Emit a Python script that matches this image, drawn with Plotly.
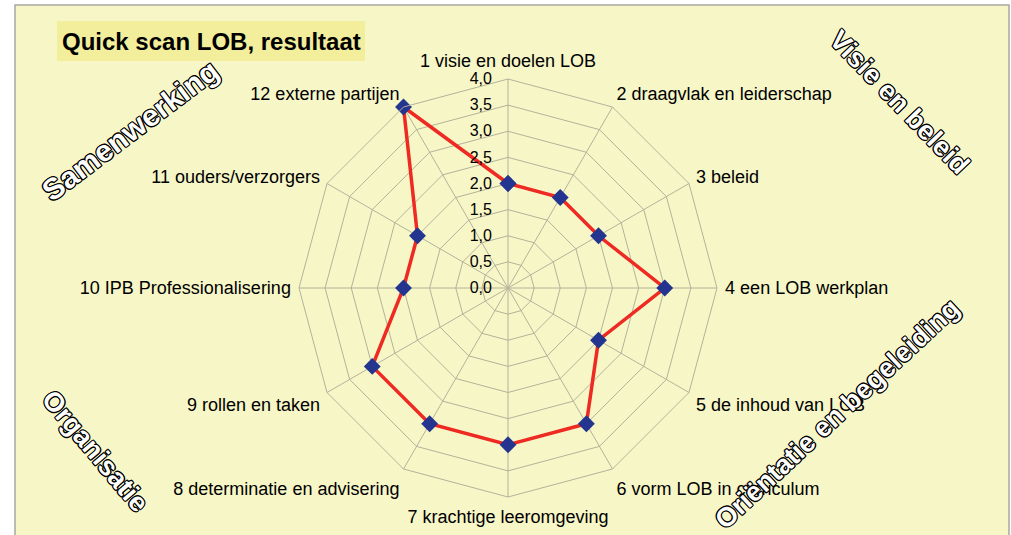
import plotly.graph_objects as go

categories = [
    "1 visie en doelen LOB",
    "2 draagvlak en leiderschap",
    "3 beleid",
    "4 een LOB werkplan",
    "5 de inhoud van LOB",
    "6 vorm LOB in curriculum",
    "7 krachtige leeromgeving",
    "8 determinatie en advisering",
    "9 rollen en taken",
    "10 IPB Professionalisering",
    "11 ouders/verzorgers",
    "12 externe partijen",
]
values = [2.0, 2.0, 2.0, 3.0, 2.0, 3.0, 3.0, 3.0, 3.0, 2.0, 2.0, 4.0]

title_text = "Quick scan LOB, resultaat"
theme_labels = ["Samenwerking", "Visie en beleid", "Organisatie", "Oriëntatie en begeleiding"]

W, H = 1011, 535
FONT = "Liberation Sans, Arial, Helvetica, sans-serif"
BG = "#F7F6C7"
GRID = "#B4B29A"

def px(x):
    return x / W

def py(y):
    return 1 - y / H

fig = go.Figure()
fig.add_trace(go.Scatterpolar(
    r=values + values[:1],
    theta=categories + categories[:1],
    mode="lines+markers",
    line=dict(color="#EE2A22", width=3.5),
    marker=dict(symbol="diamond", size=13, color="#24358F"),
    showlegend=False,
))

cx, cy, R = 508, 288, 209
fig.update_layout(
    width=W, height=H,
    margin=dict(l=0, r=0, t=0, b=0),
    paper_bgcolor="white",
    separators=",.",
    font=dict(family=FONT, color="black"),
    polar=dict(
        domain=dict(x=[px(cx - R), px(cx + R)], y=[py(cy + R), py(cy - R)]),
        bgcolor="rgba(0,0,0,0)",
        gridshape="linear",
        radialaxis=dict(
            range=[0, 4], dtick=0.5, tick0=0, tickformat=".1f",
            angle=90, tickangle=90, side="counterclockwise", showline=False,
            gridcolor=GRID, gridwidth=1,
            tickfont=dict(size=16, family=FONT, color="black"),
            ticks="outside", ticklen=10, tickcolor="rgba(0,0,0,0)",
        ),
        angularaxis=dict(
            direction="clockwise", rotation=90,
            showline=True, linecolor=GRID, linewidth=1,
            gridcolor=GRID, gridwidth=1,
            tickfont=dict(size=18, family=FONT, color="black"),
            ticks="outside", ticklen=4, tickcolor="rgba(0,0,0,0)",
        ),
    ),
)

# background panel
fig.add_shape(type="rect", xref="paper", yref="paper",
              x0=px(15), x1=px(1009), y0=py(560), y1=py(5),
              fillcolor=BG, line=dict(color="#A8A8A0", width=1.5), layer="below")
# title box
fig.add_shape(type="rect", xref="paper", yref="paper",
              x0=px(57), x1=px(365), y0=py(61), y1=py(21),
              fillcolor="#F2EE9B", line=dict(width=0), layer="below")
fig.add_annotation(text="<b>" + title_text + "</b>", xref="paper", yref="paper",
                   x=px(211), y=py(41), xanchor="center", yanchor="middle",
                   showarrow=False, font=dict(size=24, family=FONT, color="black"))

outline = ("-1px -1px 0 #000, 1px -1px 0 #000, -1px 1px 0 #000, 1px 1px 0 #000, "
           "0 1px 0 #000, 0 -1px 0 #000, 1px 0 0 #000, -1px 0 0 #000")
themes = [
    (theme_labels[0], 130, 130, -37, 30),
    (theme_labels[1], 899, 102, 46, 27),
    (theme_labels[2], 95, 451, 50, 27),
    (theme_labels[3], 837, 414, -43, 27),
]
for txt, x, y, ang, fs in themes:
    fig.add_annotation(text="<b>" + txt + "</b>", xref="paper", yref="paper",
                       x=px(x), y=py(y), xanchor="center", yanchor="middle",
                       textangle=ang, showarrow=False,
                       font=dict(size=fs, family=FONT, color="white", shadow=outline))

fig.write_html("out.html", config={"displayModeBar": False},
               post_script="document.body.style.margin='0px';")
